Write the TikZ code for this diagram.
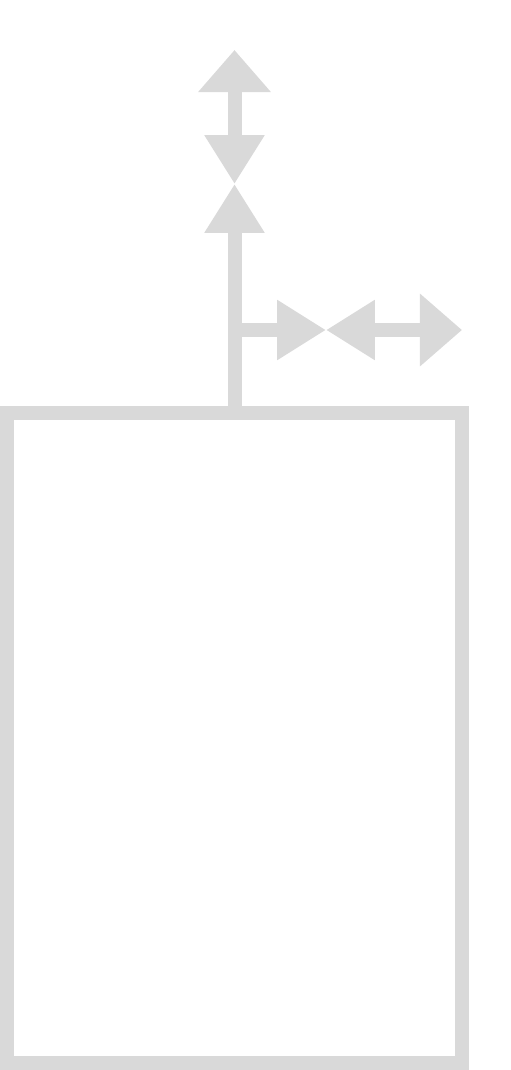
\documentclass[tikz,border=0pt]{standalone}
\usepackage{tikz}
\usetikzlibrary{arrows.meta, positioning}
\definecolor{boxgray}{HTML}{D9D9D9}

\begin{document}
\begin{tikzpicture}[x=0.025cm, y=-0.025cm,
   link/.style={boxgray, line width=0.35cm},
   midtip/.tip={Triangle[length=1.22cm, width=1.42cm]},
   endtip/.tip={Triangle[length=1.05cm, width=1.75cm]}]
            % Frame
            \useasboundingbox (0,0) rectangle (511,1070);
            % Box
            \node[draw=boxgray, line width=0.35cm, outer sep=0pt,
               minimum width=11.375cm, minimum height=16.25cm]
               (box) at (234.5,738) {};
            % Points on the arrows
            \coordinate (up1) at (234.5,184);
            \coordinate (up2) at (234.5,50);
            \coordinate (side0) at (234.5,330);
            \coordinate (side1) at (326,330);
            \coordinate (side2) at (462,330);
            % Vertical arrows
            \draw[link, -{midtip}] (box.north) -- (up1);
            \draw[link, {midtip}-{endtip}] (up1) -- (up2);
            % Horizontal arrows
            \draw[link, -{midtip}] (side0) -- (side1);
            \draw[link, {midtip}-{endtip}] (side1) -- (side2);
         \end{tikzpicture}
\end{document}
